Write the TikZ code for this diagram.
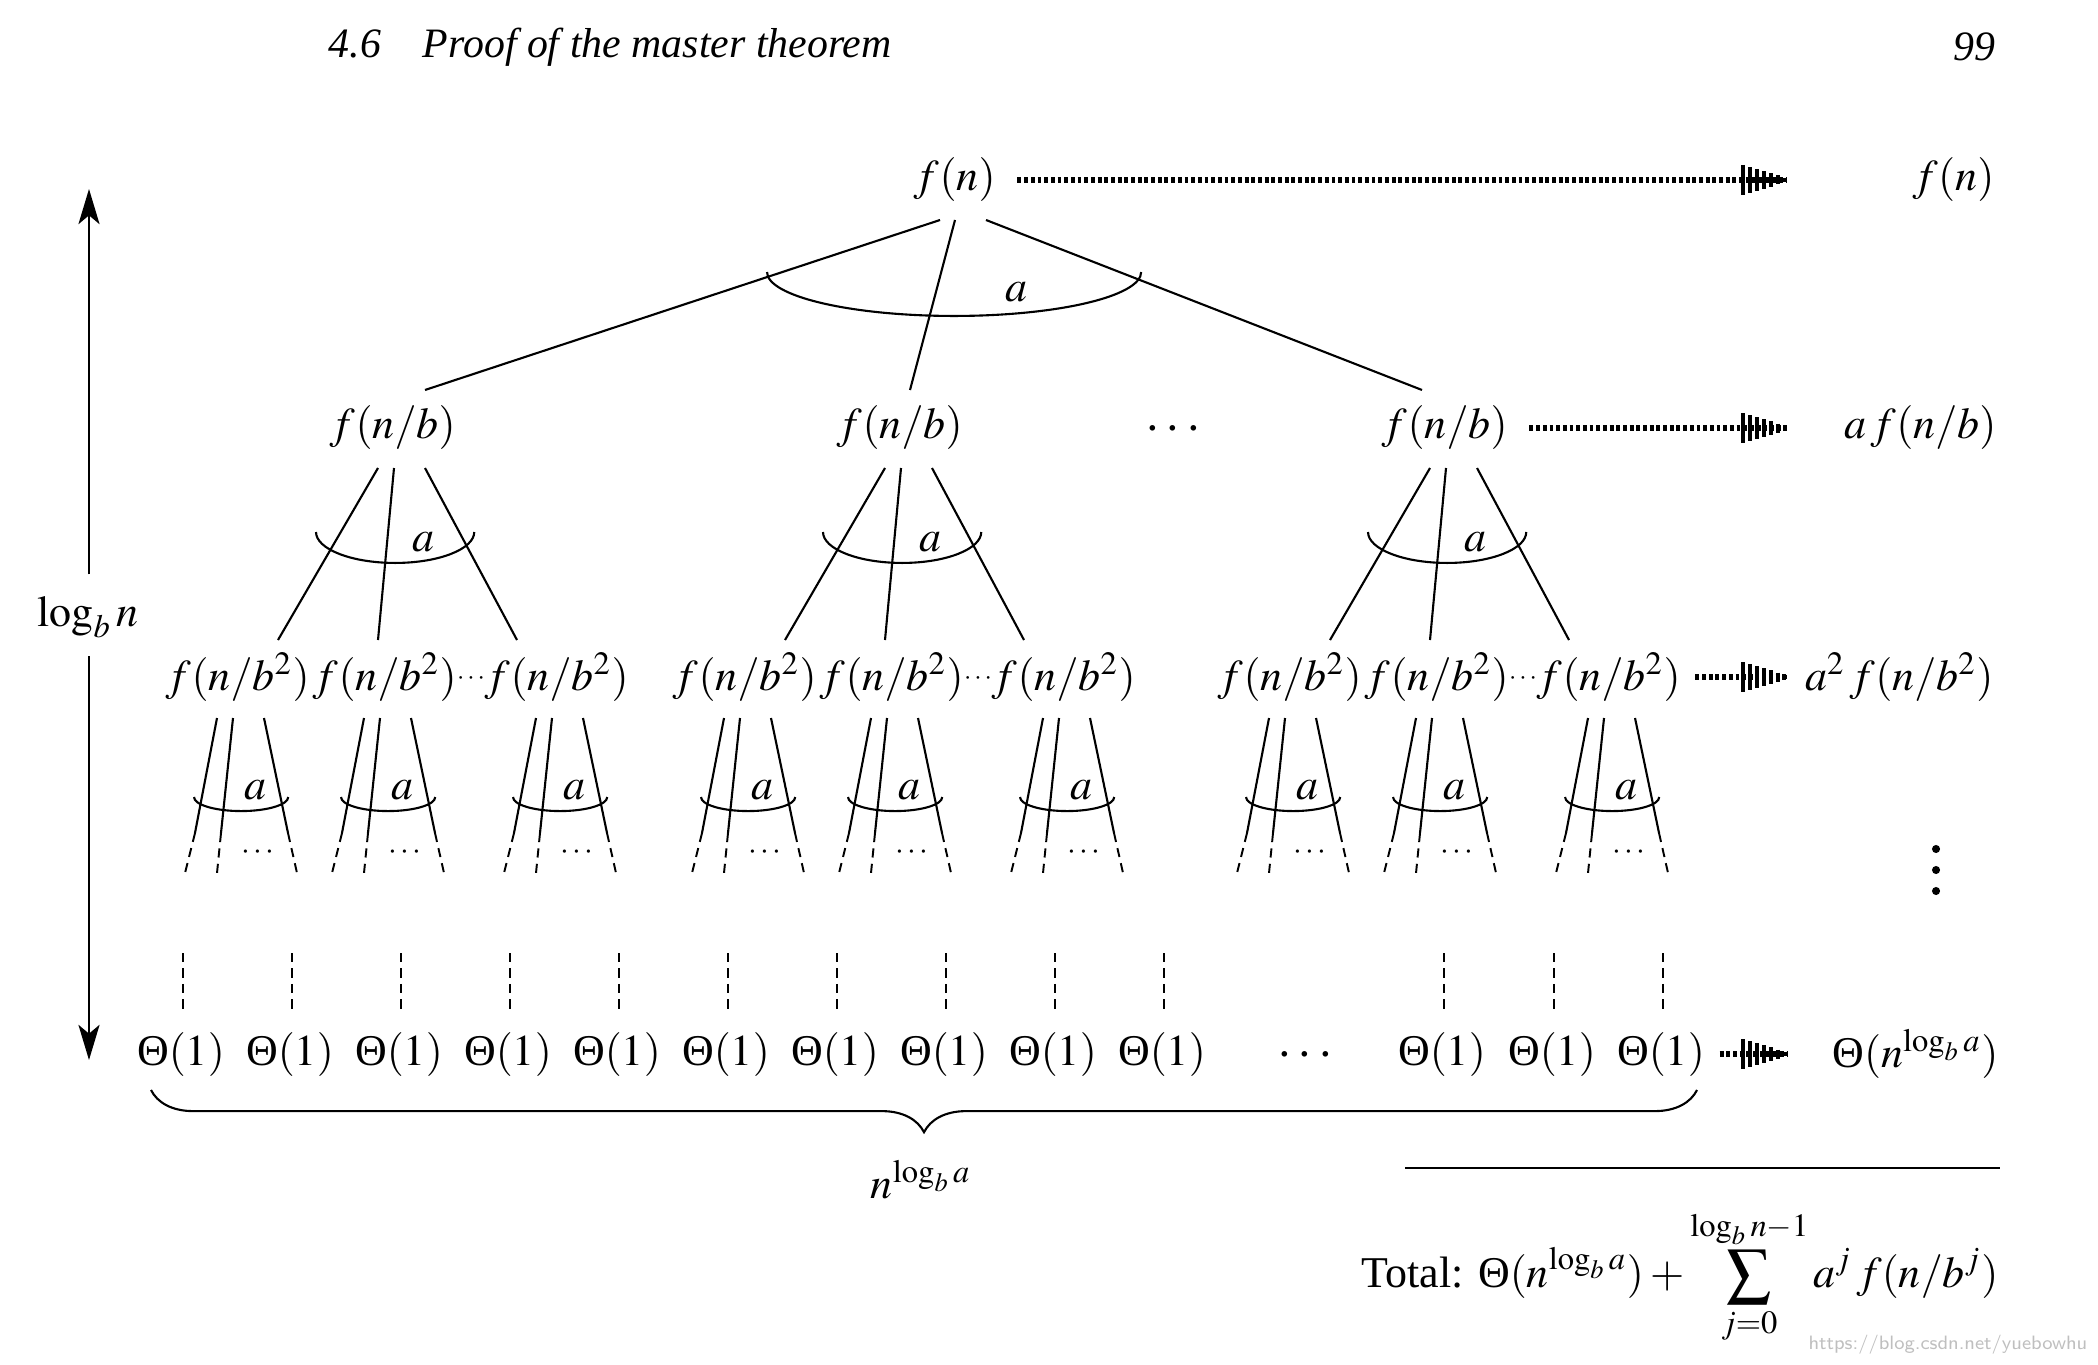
\documentclass[tikz,border=0pt]{standalone}
\usepackage{mathptmx}
\usepackage[no-math]{fontspec}
\setmainfont{Liberation Serif}
\usetikzlibrary{calc,arrows.meta,decorations.pathreplacing}

\newcommand{\Thet}{\mbox{\normalfont Θ}}

\tikzset{
  lbl/.style={inner sep=0pt},
  bigdots/.style={inner sep=0pt,font=\fontsize{15}{18}\selectfont},
  tree/.style={line width=0.6pt},
  leaf/.style={line width=0.55pt, dash pattern=on 2.6pt off 1.8pt},
  sumline/.style={line width=1.5pt, dash pattern=on 1.1pt off 0.8pt},
  stripetip/.pic={
    \foreach \k in {0,...,6}
      \draw[line width=1pt] ({-44+7*\k},{-15+2.1*\k}) -- ({-44+7*\k},{15-2.1*\k});
  },
}

\begin{document}
\begin{tikzpicture}[x=0.01cm,y=-0.01cm,font=\fontsize{12.5}{15}\selectfont]
\useasboundingbox (0,0) rectangle (2098,1364);

% running head
\node[lbl,anchor=west,font=\fontsize{11.9}{14}\selectfont] (head) at (328,47) {\itshape 4.6\quad Proof of the master theorem};
\node[lbl,anchor=east,font=\fontsize{11.9}{14}\selectfont] (page) at (1996,47) {\itshape 99};

% root and first level
\node[lbl] (root) at (955,180) {$f(n)$};
\node[lbl] (n1) at (393,428) {$f(n/b)$};
\node[lbl] (n2) at (900,428) {$f(n/b)$};
\node[lbl] (n3) at (1445,428) {$f(n/b)$};
\node[bigdots] (ndots) at (1173,430) {$\cdots$};
\foreach \c/\s/\e in {n1/-15/32, n2/0/10, n3/31/-23}
  \draw[tree] ($(root)+(\s,40)$) -- ($(\c)+(\e,-38)$);
\draw[tree] ($(root)+(-188,92)$) arc[start angle=180,end angle=360,x radius=53.2pt,y radius=12.5pt];
\node[lbl] (aroot) at (1016,292) {$a$};

% second level
\foreach \p in {n1,n2,n3}{
  \foreach \d/\k in {-155/1,-8/2,164/3}
    \node[lbl] (\p c\k) at ($(\p)+(\d,249)$) {$f(n/b^2)$};
  \node[lbl,font=\fontsize{7.5}{9}\selectfont] (\p dots) at ($(\p)+(78,251)$) {$\cdots$};
  \foreach \s/\e/\k in {-15/40/1, 1/-7/2, 32/-40/3}
    \draw[tree] ($(\p)+(\s,40)$) -- ($(\p c\k)+(\e,-37)$);
  \draw[tree] ($(\p)+(-77,104)$) arc[start angle=180,end angle=360,x radius=22.5pt,y radius=8.8pt];
  \node[lbl] (\p a) at ($(\p)+(30,114)$) {$a$};
}

% third level, cut off
\foreach \p in {n1,n2,n3}
  \foreach \k in {1,2,3}{
    \foreach \t/\m/\b in {-21/-43/-53, -5/-17/-21, 26/50/59}{
      \draw[tree] ($(\p c\k)+(\t,41)$) -- ($(\p c\k)+(\m,156)$);
      \draw[leaf] ($(\p c\k)+(\m,156)$) -- ($(\p c\k)+(\b,196)$);
    }
    \draw[tree] ($(\p c\k)+(-44,120)$) arc[start angle=180,end angle=360,x radius=13.4pt,y radius=4pt];
    \node[lbl] (\p c\k a) at ($(\p c\k)+(17,113)$) {$a$};
    \node[lbl,font=\fontsize{9}{10}\selectfont] (\p c\k d) at ($(\p c\k)+(20,176)$) {$\cdots$};
  }

% leaves
\foreach \x [count=\i] in {181,290,399,508,617,726,835,944,1053,1162,1442,1552,1661}{
  \node[lbl] (th\i) at (\x,1054) {$\Thet(1)$};
  \draw[leaf] ($(th\i)+(2,-101)$) -- ($(th\i)+(2,-41)$);
}
\node[bigdots] (thdots) at (1305,1056) {$\cdots$};

% row sums
\node[lbl,anchor=east] (s0) at (1995,180) {$f(n)$};
\node[lbl,anchor=east] (s1) at (1997,428) {$a\,f(n/b)$};
\node[lbl,anchor=east] (s2) at (1994,677) {$a^2\,f(n/b^2)$};
\node[lbl,anchor=east] (s3) at (1999,1054) {$\Thet(n^{\log_b a})$};
\foreach \y in {849,870,891} \fill (1936,\y) circle[radius=1.15pt];

\coordinate (tip0) at (1787,180);
\coordinate (tip1) at (1787,428);
\coordinate (tip2) at (1787,677);
\coordinate (tip3) at (1787,1054);
\draw[sumline] ([xshift=6pt]root.east) -- (tip0);
\draw[sumline] ([xshift=6pt]n3.east) -- (tip1);
\draw[sumline] ([xshift=4pt]n3c3.east) -- (tip2);
\draw[sumline] ([xshift=4pt]th13.east) -- (tip3);
\foreach \i in {0,...,3} \pic at (tip\i) {stripetip};

% height of the tree
\node[lbl] (logn) at (88,617) {$\log_b n$};
\coordinate (top) at (89,189);
\coordinate (bot) at (89,1060);
\draw[tree,-{Stealth[length=10pt,width=6pt,inset=2.5pt]},shorten <=6pt] (logn.north -| top) -- (top);
\draw[tree,-{Stealth[length=10pt,width=6pt,inset=2.5pt]},shorten <=5pt] (logn.south -| bot) -- (bot);

% number of leaves
\coordinate (bl) at (151,1090);
\coordinate (br) at (1697,1090);
\draw[tree,decorate,decoration={brace,mirror,amplitude=12pt}] (bl) -- (br);
\node[lbl] (nleaves) at (921,1180) {$n^{\log_b a}$};

% total
\coordinate (ruleL) at (1405,1168);
\coordinate (ruleR) at (2000,1168);
\draw[tree] (ruleL) -- (ruleR);
\node[lbl,anchor=east] (total) at (1999,1277) {Total: $\displaystyle\Thet(n^{\log_b a}) + \sum_{j=0}^{\log_b n-1} a^j\, f(n/b^j)$};

\node[lbl,anchor=east,text=gray!50,font=\sffamily\fontsize{5.5}{6}\selectfont] (mark) at (2088,1345) {https://blog.csdn.net/yuebowhu};
\end{tikzpicture}
\end{document}
